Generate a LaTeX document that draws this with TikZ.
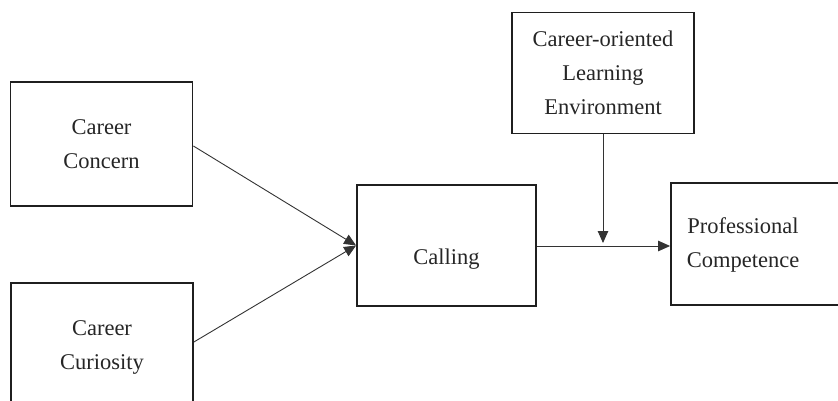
\documentclass[tikz,border=0pt]{standalone}
\usepackage{fontspec}
\setmainfont{Liberation Serif}
\usetikzlibrary{arrows.meta}
\begin{document}
\begin{tikzpicture}[x=1pt,y=-1pt,
  box/.style={draw=black!88, line width=1.8pt, align=center, inner sep=0pt,
    font=\fontsize{22.5}{34}\selectfont, text=black!85},
  conn/.style={draw=black!80, line width=0.9pt},
  tip/.style={-{Triangle[length=12pt,width=10.5pt]}}]
\useasboundingbox (0,0) rectangle (838,401);
\clip (0,0) rectangle (838,401);
\node[box, minimum width=182pt, minimum height=124pt] (concern) at (101.5,144) {Career\\Concern};
\node[box, minimum width=182pt, minimum height=128pt] (curiosity) at (102,347) {Career\\Curiosity};
\node[box, minimum width=179pt, minimum height=121pt] (calling) at (446.5,245.5) {\raisebox{-19pt}[0pt][0pt]{Calling}};
\node[box, minimum width=182pt, minimum height=121pt] (env) at (603,73) {Career-oriented\\Learning\\Environment};
\node[box, minimum width=174pt, minimum height=122pt] (prof) at (758,244) {\hspace*{-30pt}\begin{tabular}{@{}c@{}}Professional\\Competence\end{tabular}};
\coordinate (m) at (603,246);
\draw[conn, tip] ([yshift=-2pt]concern.east) -- (calling.west);
\draw[conn, tip] ([yshift=5pt]curiosity.east) -- (calling.west);
\draw[conn, tip] (calling.east |- m) -- (prof.west |- m);
\draw[conn, tip] (env.south) -- ([yshift=3pt]m);
\end{tikzpicture}
\end{document}
